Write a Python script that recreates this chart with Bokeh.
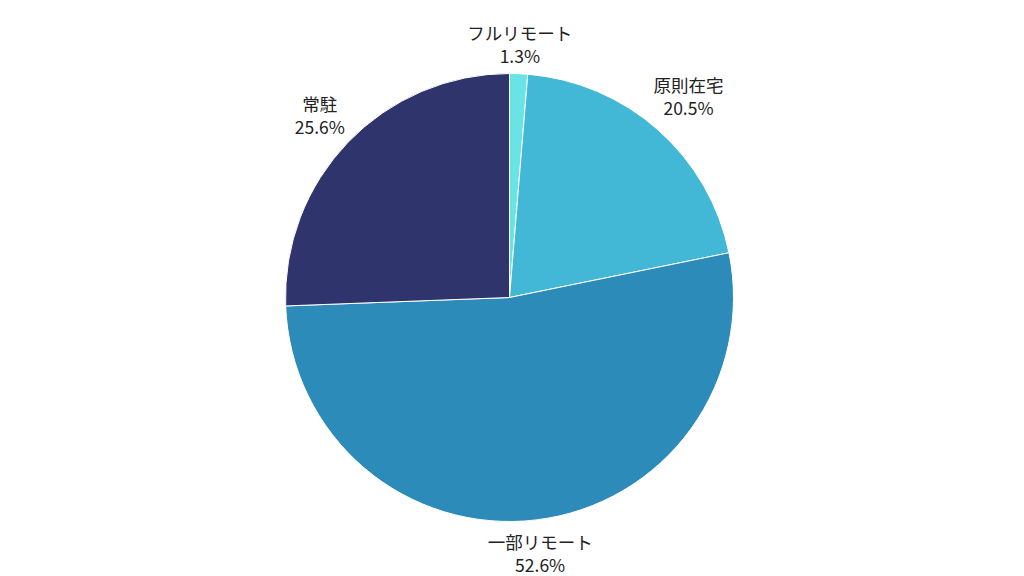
import math
from bokeh.plotting import figure
from bokeh.models import ColumnDataSource, Range1d
from bokeh.core.properties import value
from bokeh.embed import file_html
from bokeh.resources import INLINE

categories = ["フルリモート", "原則在宅", "一部リモート", "常駐"]
percents = [1.3, 20.5, 52.6, 25.6]
colors = ["#6ae3e6", "#42b8d6", "#2d8bba", "#2f346c"]

W, H = 1024, 576
cx, cy = 509, 576 - 297
R = 224
R0 = 231.5          # label anchor radius
FS = 17.5           # font size px
HH = 20             # half height of two-line label box


def text_width(s):
    w = 0.0
    for ch in s:
        if ord(ch) > 0x2000:
            w += FS
        elif ch == ".":
            w += FS * 0.29
        elif ch == "%":
            w += FS * 0.85
        else:
            w += FS * 0.57
    return w


total = sum(percents)
starts, ends, lx, ly, pct_txt = [], [], [], [], []
cum = 0.0
for cat, v in zip(categories, percents):
    a0 = math.pi / 2 - 2 * math.pi * cum / total
    cum += v
    a1 = math.pi / 2 - 2 * math.pi * cum / total
    starts.append(a0)
    ends.append(a1)
    mid = (a0 + a1) / 2
    ux, uy = math.cos(mid), math.sin(mid)
    pct = f"{v:.1f}%"
    hw = max(text_width(cat), text_width(pct)) / 2
    d = hw * abs(ux) + HH * abs(uy)
    r = R0 + d
    lx.append(cx + r * ux)
    ly.append(cy + r * uy)
    pct_txt.append(pct)

src = ColumnDataSource(dict(
    start=starts, end=ends, color=colors, cat=categories, pct=pct_txt,
    x=[cx] * 4, y=[cy] * 4, lx=lx, ly1=[y + 11.5 for y in ly], ly2=[y - 11.5 for y in ly],
))

p = figure(width=W, height=H, output_backend="svg", toolbar_location=None,
           x_range=Range1d(0, W), y_range=Range1d(0, H), min_border=0)
p.axis.visible = False
p.grid.visible = False
p.outline_line_color = None
p.background_fill_color = "white"
p.border_fill_color = "white"

p.wedge(x="x", y="y", radius=R, start_angle="start", end_angle="end", direction="clock",
        fill_color="color", line_color="white", line_width=1, source=src)

font = value("Noto Sans CJK JP")
p.text(x="lx", y="ly1", text="cat", source=src, text_font=font, text_font_size=f"{FS}px",
       text_color="#222222", text_align="center", text_baseline="middle")
p.text(x="lx", y="ly2", text="pct", source=src, text_font=font, text_font_size=f"{FS}px",
       text_color="#222222", text_align="center", text_baseline="middle")

open("out.html", "w").write(file_html(p, INLINE))
